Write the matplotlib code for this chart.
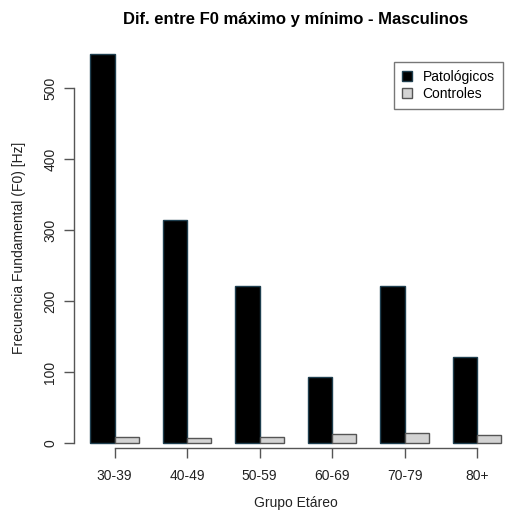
import matplotlib
matplotlib.use("Agg")
import matplotlib.pyplot as plt
import numpy as np

groups = ["30-39", "40-49", "50-59", "60-69", "70-79", "80+"]
patologicos = [548, 314, 221, 93, 221, 121]
controles = [9, 6.5, 8, 12.7, 13.6, 11.3]

plt.rcParams['font.family'] = ['Liberation Sans', 'DejaVu Sans']

W, H = 509, 511
fig = plt.figure(figsize=(W / 100, H / 100), dpi=100)
left, right, bottom, top = 74, 517.7, 448, 50
ax = fig.add_axes([left / W, 1 - bottom / H, (right - left) / W, (bottom - top) / H])

n = len(groups)
starts = np.arange(n) * 3 + 1
ax.bar(starts, patologicos, width=1, align='edge', color='black', edgecolor='#1f3f4f', linewidth=1, label='Patológicos')
ax.bar(starts + 1, controles, width=1, align='edge', color='#d3d3d3', edgecolor='#555555', linewidth=1, label='Controles')

ax.set_xlim(0.32, 18.68)
ax.set_ylim(-7.04, 553.5)

for s in ['top', 'right']:
    ax.spines[s].set_visible(False)
ax.spines['left'].set_bounds(0, 500)
ax.spines['bottom'].set_bounds(2, 17)
for s in ['left', 'bottom']:
    ax.spines[s].set_color('#555555')
    ax.spines[s].set_linewidth(1)

ax.set_yticks([0, 100, 200, 300, 400, 500])
ax.set_yticklabels(['0', '100', '200', '300', '400', '500'], rotation=90, va='center', fontsize=10)
ax.set_xticks(starts + 1)
ax.set_xticklabels(groups, fontsize=10)
ax.tick_params(axis='both', colors='#555555', labelcolor='#222222', length=7, width=1)
ax.tick_params(axis='x', pad=8)
ax.tick_params(axis='y', pad=5)

fig.text(296 / W, 1 - 503 / H, "Grupo Etáreo", ha='center', va='center', fontsize=10, color='#222222')
fig.text(19 / W, 1 - 248 / H, "Frecuencia Fundamental (F0) [Hz]", ha='center', va='center', rotation=90, fontsize=10, color='#222222')
fig.text(296 / W, 1 - 19 / H, "Dif. entre F0 máximo y mínimo - Masculinos", ha='center', va='center', fontsize=12, fontweight='bold')

leg = ax.legend(loc='upper right', bbox_to_anchor=(503 / W, 1 - 61.7 / H), bbox_transform=fig.transFigure,
                fancybox=False, edgecolor='#555555', fontsize=10, handlelength=0.7, handleheight=0.7,
                handletextpad=0.8, borderpad=0.6, labelspacing=0.2, borderaxespad=0)
leg.get_frame().set_linewidth(1)

fig.savefig("out.png", dpi=100)
